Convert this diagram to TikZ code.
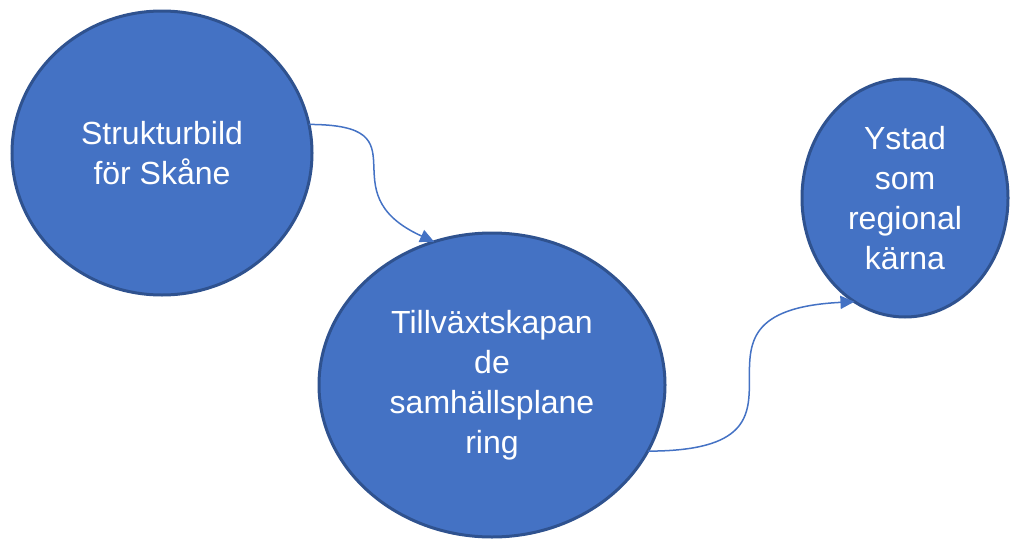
\documentclass[tikz,border=0pt]{standalone}
\usepackage{fontspec}
\setmainfont{Liberation Sans}
\usetikzlibrary{shapes.geometric,arrows.meta}
\definecolor{fillblue}{HTML}{4472C4}
\definecolor{edgeblue}{HTML}{2F528F}
\begin{document}
\begin{tikzpicture}[x=1pt,y=-1pt,
  bubble/.style={ellipse,draw=edgeblue,fill=fillblue,line width=3pt,inner sep=0pt,outer sep=0pt,
    text=white,align=center,font=\fontsize{32}{40}\selectfont},
  link/.style={draw=fillblue,line width=1.5pt,-{Triangle[length=14pt,width=13pt]}}]
\useasboundingbox (0,0) rectangle (1012,541);
\node[bubble,minimum width=300pt,minimum height=284pt] (e1) at (162,153) {Strukturbild\\för Skåne};
\node[bubble,minimum width=346pt,minimum height=304pt] (e2) at (492,385) {Tillväxtskapan\\de\\samhällsplane\\ring};
\node[bubble,minimum width=206pt,minimum height=238pt] (e3) at (905,198) {Ystad\\som\\regional\\kärna};
\draw[link] (e1.11) .. controls +(120,0) and +(-110,-50) .. (e2.112);
\draw[link] (e2.-23) .. controls +(200,0) and +(-200,10) .. (e3.244);
\end{tikzpicture}
\end{document}
